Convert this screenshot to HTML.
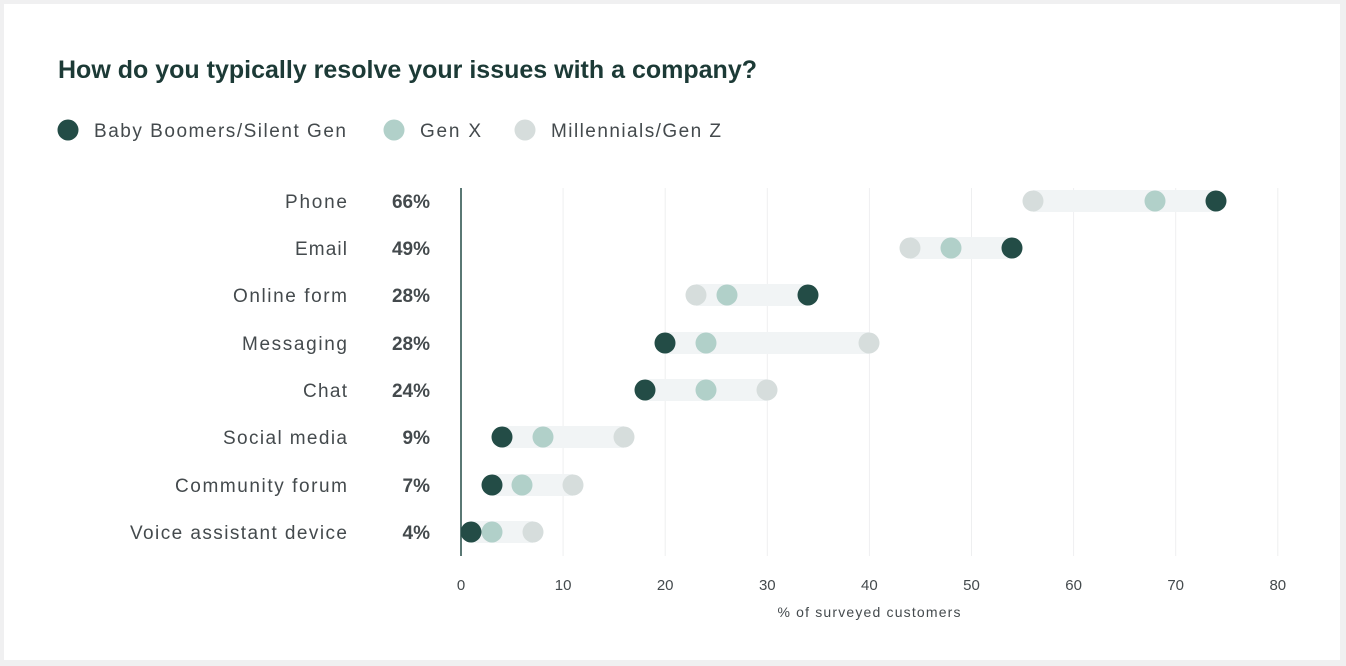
<!DOCTYPE html>
<html><head><meta charset="utf-8"><style>
html,body{margin:0;padding:0;background:#f0f0f1;}
svg{display:block;font-family:"Liberation Sans",sans-serif;}
</style></head><body>
<svg width="1346" height="666" xmlns="http://www.w3.org/2000/svg">
<rect x="0" y="0" width="1346" height="666" fill="#f0f0f1"/>
<rect x="4" y="4" width="1336" height="656" fill="#ffffff"/>
<text x="58" y="78" font-size="25" font-weight="bold" fill="#1c3a36" textLength="699">How do you typically resolve your issues with a company?</text>
<g font-size="19" fill="#444a4d">
<circle cx="68" cy="130" r="10.5" fill="#234c46"/><text x="94" y="137" textLength="252">Baby Boomers/Silent Gen</text>
<circle cx="394" cy="130" r="10.5" fill="#b1d0c9"/><text x="420" y="137" textLength="61">Gen X</text>
<circle cx="525" cy="130" r="10.5" fill="#d6dddc"/><text x="551" y="137" textLength="170">Millennials/Gen Z</text>
</g>
<g stroke="#eeeff0" stroke-width="1">
<line x1="563.1" y1="188" x2="563.1" y2="556"/><line x1="665.2" y1="188" x2="665.2" y2="556"/>
<line x1="767.3" y1="188" x2="767.3" y2="556"/><line x1="869.4" y1="188" x2="869.4" y2="556"/>
<line x1="971.5" y1="188" x2="971.5" y2="556"/><line x1="1073.6" y1="188" x2="1073.6" y2="556"/>
<line x1="1175.7" y1="188" x2="1175.7" y2="556"/><line x1="1277.8" y1="188" x2="1277.8" y2="556"/>
</g>
<line x1="461" y1="188" x2="461" y2="556" stroke="#234c46" stroke-width="1.5"/>
<g font-size="15" fill="#444a4d" text-anchor="middle">
<text x="461" y="590">0</text><text x="563.1" y="590">10</text><text x="665.2" y="590">20</text>
<text x="767.3" y="590">30</text><text x="869.4" y="590">40</text><text x="971.5" y="590">50</text>
<text x="1073.6" y="590">60</text><text x="1175.7" y="590">70</text><text x="1277.8" y="590">80</text>
<text x="869" y="617" font-size="14" textLength="183">% of surveyed customers</text>
</g>
<g font-size="19" fill="#444a4d">
<text x="285" y="208" textLength="62">Phone</text><text x="295" y="255" textLength="52">Email</text><text x="233" y="302" textLength="114">Online form</text>
<text x="242" y="350" textLength="105">Messaging</text><text x="303" y="397" textLength="44">Chat</text><text x="223" y="444" textLength="124">Social media</text>
<text x="175" y="492" textLength="172">Community forum</text><text x="130" y="539" textLength="217">Voice assistant device</text>
</g>
<g font-size="19" font-weight="bold" fill="#444a4d" text-anchor="end">
<text x="430" y="208">66%</text><text x="430" y="255">49%</text><text x="430" y="302">28%</text>
<text x="430" y="350">28%</text><text x="430" y="397">24%</text><text x="430" y="444">9%</text>
<text x="430" y="492">7%</text><text x="430" y="539">4%</text>
</g>
<g>
<rect x="1033" y="190" width="183" height="22" fill="#f1f4f5"/>
<circle cx="1033" cy="201" r="10.5" fill="#d6dddc"/><circle cx="1155" cy="201" r="10.5" fill="#b1d0c9"/><circle cx="1216" cy="201" r="10.5" fill="#234c46"/>
<rect x="910" y="237" width="102" height="22" fill="#f1f4f5"/>
<circle cx="910" cy="248" r="10.5" fill="#d6dddc"/><circle cx="951" cy="248" r="10.5" fill="#b1d0c9"/><circle cx="1012" cy="248" r="10.5" fill="#234c46"/>
<rect x="696" y="284" width="112" height="22" fill="#f1f4f5"/>
<circle cx="696" cy="295" r="10.5" fill="#d6dddc"/><circle cx="727" cy="295" r="10.5" fill="#b1d0c9"/><circle cx="808" cy="295" r="10.5" fill="#234c46"/>
<rect x="665" y="332" width="204" height="22" fill="#f1f4f5"/>
<circle cx="869" cy="343" r="10.5" fill="#d6dddc"/><circle cx="706" cy="343" r="10.5" fill="#b1d0c9"/><circle cx="665" cy="343" r="10.5" fill="#234c46"/>
<rect x="645" y="379" width="122" height="22" fill="#f1f4f5"/>
<circle cx="767" cy="390" r="10.5" fill="#d6dddc"/><circle cx="706" cy="390" r="10.5" fill="#b1d0c9"/><circle cx="645" cy="390" r="10.5" fill="#234c46"/>
<rect x="502" y="426" width="122" height="22" fill="#f1f4f5"/>
<circle cx="624" cy="437" r="10.5" fill="#d6dddc"/><circle cx="543" cy="437" r="10.5" fill="#b1d0c9"/><circle cx="502" cy="437" r="10.5" fill="#234c46"/>
<rect x="492" y="474" width="81" height="22" fill="#f1f4f5"/>
<circle cx="573" cy="485" r="10.5" fill="#d6dddc"/><circle cx="522" cy="485" r="10.5" fill="#b1d0c9"/><circle cx="492" cy="485" r="10.5" fill="#234c46"/>
<rect x="471" y="521" width="62" height="22" fill="#f1f4f5"/>
<circle cx="533" cy="532" r="10.5" fill="#d6dddc"/><circle cx="492" cy="532" r="10.5" fill="#b1d0c9"/><circle cx="471" cy="532" r="10.5" fill="#234c46"/>
</g>
</svg>
</body></html>
